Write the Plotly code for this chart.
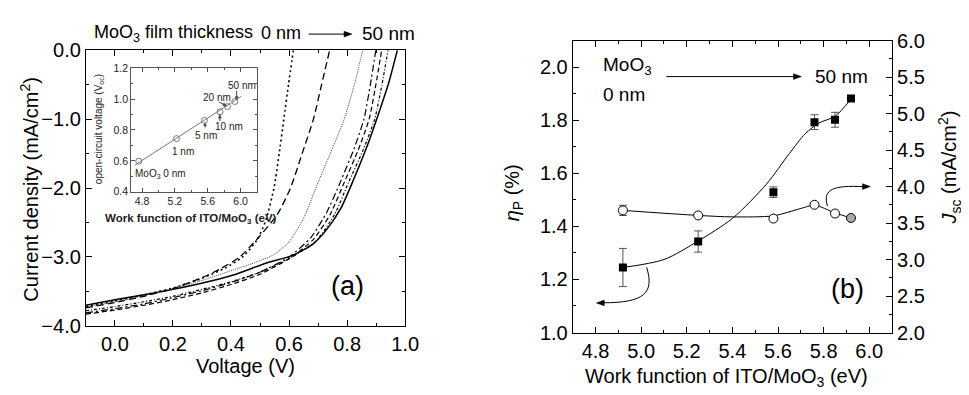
import math
import plotly.graph_objects as go

FONT = "Liberation Sans, Arial, sans-serif"

# ---------------- Panel (a): J-V curves ----------------
v_0nm = [-0.1, 0.0, 0.1, 0.2, 0.3, 0.38, 0.44, 0.49, 0.52, 0.548, 0.566, 0.582, 0.598, 0.615]
j_0nm = [-3.72, -3.64, -3.55, -3.45, -3.31, -3.16, -3.0, -2.75, -2.47, -2.0, -1.5, -1.0, -0.5, 0.0]

v_1nm = [-0.1, 0.0, 0.1, 0.2, 0.3, 0.36, 0.43, 0.49, 0.56, 0.605, 0.645, 0.684, 0.712, 0.74]
j_1nm = [-3.74, -3.66, -3.57, -3.46, -3.30, -3.18, -3.0, -2.74, -2.38, -2.0, -1.5, -1.0, -0.5, 0.0]

v_5nm = [-0.1, 0.0, 0.1, 0.2, 0.3, 0.4, 0.49, 0.55, 0.60, 0.65, 0.70, 0.75, 0.79, 0.825, 0.854]
j_5nm = [-3.73, -3.65, -3.56, -3.46, -3.34, -3.20, -3.07, -2.96, -2.78, -2.44, -1.92, -1.42, -1.0, -0.5, 0.0]

v_10nm = [-0.1, 0.0, 0.1, 0.2, 0.3, 0.4, 0.5, 0.6, 0.675, 0.73, 0.778, 0.822, 0.858, 0.880, 0.899]
j_10nm = [-3.81, -3.75, -3.68, -3.59, -3.49, -3.37, -3.22, -3.0, -2.72, -2.35, -1.9, -1.45, -1.0, -0.5, 0.0]

v_15nm = [-0.1, 0.0, 0.1, 0.2, 0.3, 0.4, 0.5, 0.61, 0.685, 0.742, 0.79, 0.838, 0.876, 0.899, 0.919]
j_15nm = [-3.83, -3.77, -3.70, -3.62, -3.52, -3.40, -3.25, -3.0, -2.74, -2.38, -1.92, -1.45, -1.0, -0.5, 0.0]

v_20nm = [-0.1, 0.0, 0.1, 0.2, 0.3, 0.4, 0.5, 0.61, 0.695, 0.757, 0.805, 0.855, 0.895, 0.92, 0.941]
j_20nm = [-3.78, -3.72, -3.65, -3.57, -3.47, -3.36, -3.22, -3.0, -2.76, -2.38, -1.92, -1.45, -1.0, -0.5, 0.0]

v_50nm = [-0.1, 0.0, 0.111, 0.2, 0.338, 0.417, 0.52, 0.61, 0.68, 0.73, 0.78, 0.822, 0.87, 0.91, 0.945, 0.973]
j_50nm = [-3.70, -3.62, -3.54, -3.47, -3.34, -3.25, -3.09, -2.98, -2.82, -2.6, -2.28, -1.88, -1.38, -0.9, -0.45, 0.0]

# ---------------- Inset: Voc vs work function ----------------
inset_wf = [4.76, 5.22, 5.56, 5.75, 5.84, 5.93]
inset_voc = [0.598, 0.744, 0.862, 0.917, 0.951, 0.984]
inset_fit_x = [4.71, 6.01]
inset_fit_y = [0.572, 1.018]

# ---------------- Panel (b) ----------------
wf = [4.92, 5.25, 5.58, 5.76, 5.85, 5.92]
eta = [1.245, 1.343, 1.529, 1.793, 1.802, 1.882]
eta_err = [0.072, 0.040, 0.020, 0.028, 0.028, 0.0]
jsc = [3.674, 3.605, 3.562, 3.751, 3.631, 3.570]
jsc_err = [0.07, 0.0, 0.0, 0.0, 0.0, 0.0]
eta_fit_x = [4.92, 5.1, 5.25, 5.4, 5.55, 5.65, 5.72, 5.78, 5.85, 5.92]
eta_fit_y = [1.245, 1.275, 1.345, 1.43, 1.56, 1.675, 1.75, 1.79, 1.815, 1.88]
jsc_fit_x = [4.92, 5.25, 5.4, 5.58, 5.7, 5.76, 5.85, 5.92]
jsc_fit_y = [3.674, 3.605, 3.585, 3.60, 3.70, 3.745, 3.64, 3.57]

W, H = 969, 395
def px(x):
    return x / W
def py(y):
    return 1 - y / H

fig = go.Figure()

curves = [
    (v_0nm, j_0nm, dict(color="black", width=1.6, dash="2px,3px")),
    (v_1nm, j_1nm, dict(color="black", width=1.3, dash="7px,4px")),
    (v_5nm, j_5nm, dict(color="#333", width=0.9, dash="1px,1px")),
    (v_10nm, j_10nm, dict(color="black", width=1.2, dash="7px,3px,2px,3px")),
    (v_15nm, j_15nm, dict(color="black", width=1.2, dash="5px,3px")),
    (v_20nm, j_20nm, dict(color="black", width=1.2, dash="3px,2px,1px,2px")),
    (v_50nm, j_50nm, dict(color="black", width=1.5)),
]
for vx, jy, ln in curves:
    fig.add_trace(go.Scatter(x=vx, y=jy, mode="lines",
                             line=dict(shape="spline", smoothing=0.6, **ln),
                             xaxis="x", yaxis="y", showlegend=False, hoverinfo="skip"))

# inset
fig.add_trace(go.Scatter(x=inset_fit_x, y=inset_fit_y, mode="lines",
                         line=dict(color="#777", width=1), xaxis="x3", yaxis="y4", showlegend=False))
fig.add_trace(go.Scatter(x=inset_wf, y=inset_voc, mode="markers",
                         marker=dict(symbol="circle-open", size=6, color="#777", line=dict(width=1)),
                         xaxis="x3", yaxis="y4", showlegend=False))

# panel b fits
fig.add_trace(go.Scatter(x=eta_fit_x, y=eta_fit_y, mode="lines",
                         line=dict(color="black", width=1, shape="spline", smoothing=0.8),
                         xaxis="x2", yaxis="y2", showlegend=False))
fig.add_trace(go.Scatter(x=jsc_fit_x, y=jsc_fit_y, mode="lines",
                         line=dict(color="black", width=1, shape="spline", smoothing=0.8),
                         xaxis="x2", yaxis="y3", showlegend=False))
fig.add_trace(go.Scatter(x=wf, y=eta, mode="markers",
                         marker=dict(symbol="square", size=8, color="black"),
                         error_y=dict(type="data", array=eta_err, color="#555", thickness=1, width=4),
                         xaxis="x2", yaxis="y2", showlegend=False))
fig.add_trace(go.Scatter(x=wf, y=jsc, mode="markers",
                         marker=dict(symbol="circle", size=9,
                                     color=["white"] * 5 + ["#aaa"],
                                     line=dict(color="black", width=1)),
                         error_y=dict(type="data", array=jsc_err, color="#555", thickness=1, width=4),
                         xaxis="x2", yaxis="y3", showlegend=False))

axis_common = dict(showline=True, linecolor="black", linewidth=1, ticks="inside",
                   ticklen=6, tickwidth=1, tickcolor="black", showgrid=False, zeroline=False,
                   tickfont=dict(family=FONT, size=20, color="black"))
inset_common = dict(showline=True, linecolor="#555", linewidth=1, ticks="inside", ticklen=4,
                    tickcolor="#555", showgrid=False, zeroline=False, mirror="ticks",
                    tickfont=dict(family=FONT, size=10.5, color="#222"))

fig.update_layout(
    width=W, height=H, autosize=False,
    margin=dict(l=0, r=0, t=0, b=0),
    paper_bgcolor="white", plot_bgcolor="white",
    font=dict(family=FONT, color="black"),
    xaxis=dict(domain=[px(79), px(403)], range=[-0.1, 1.0], anchor="y", mirror="ticks",
               dtick=0.2, tick0=0, tickformat=".1f",
               minor=dict(ticks="inside", ticklen=3, dtick=0.1, tick0=0, tickcolor="black"),
               **axis_common),
    yaxis=dict(domain=[py(325), py(33)], range=[-4, 0], anchor="x", mirror="ticks",
               dtick=1, tick0=0, tickformat=".1f",
               minor=dict(ticks="inside", ticklen=3, dtick=0.5, tick0=0, tickcolor="black"),
               **axis_common),
    xaxis2=dict(domain=[px(573), px(897)], range=[4.7, 6.1], anchor="y2", mirror="ticks",
                dtick=0.2, tick0=4.8, tickformat=".1f",
                minor=dict(ticks="inside", ticklen=3, dtick=0.1, tick0=4.8, tickcolor="black"),
                **axis_common),
    yaxis2=dict(domain=[py(332), py(23)], range=[1.0, 2.1], anchor="x2",
                dtick=0.2, tick0=1.0, tickformat=".1f",
                minor=dict(ticks="inside", ticklen=3, dtick=0.1, tick0=1.0, tickcolor="black"),
                **axis_common),
    yaxis3=dict(overlaying="y2", side="right", anchor="x2", range=[2, 6],
                dtick=0.5, tick0=2, tickformat=".1f",
                minor=dict(ticks="inside", ticklen=3, dtick=0.25, tick0=2, tickcolor="black"),
                **axis_common),
    xaxis3=dict(domain=[px(125), px(253)], range=[4.668, 6.204], anchor="y4",
                dtick=0.4, tick0=4.8, tickformat=".1f",
                minor=dict(ticks="inside", ticklen=2, dtick=0.2, tick0=4.8, tickcolor="#555"),
                **inset_common),
    yaxis4=dict(domain=[py(183), py(52)], range=[0.4, 1.2], anchor="x3",
                dtick=0.2, tick0=0.4, tickformat=".1f",
                minor=dict(ticks="inside", ticklen=2, dtick=0.1, tick0=0.4, tickcolor="#555"),
                **inset_common),
)

ann = []
def text(x, y, s, size=20, xanchor="center", yanchor="middle", angle=0, color="black"):
    ann.append(dict(x=px(x), y=py(y), xref="paper", yref="paper", text=s, showarrow=False,
                    xanchor=xanchor, yanchor=yanchor, textangle=angle, borderpad=0,
                    font=dict(family=FONT, size=size, color=color)))

shapes = []
def head(tx, ty, dx, dy, length=8, half=3, color="black"):
    """filled arrowhead (pixel coords), tip at (tx,ty), pointing along (dx,dy)"""
    n = math.hypot(dx, dy)
    ux, uy = dx / n, dy / n
    bx, by = tx - ux * length, ty - uy * length
    p1 = (bx - uy * half, by + ux * half)
    p2 = (bx + uy * half, by - ux * half)
    path = "M {},{} L {},{} L {},{} Z".format(px(tx), py(ty), px(p1[0]), py(p1[1]), px(p2[0]), py(p2[1]))
    shapes.append(dict(type="path", xref="paper", yref="paper", path=path,
                       fillcolor=color, line=dict(color=color, width=0.5)))

def straight_arrow(x0, y0, x1, y1, color="black", width=1, length=8, half=3):
    n = math.hypot(x1 - x0, y1 - y0)
    ex = x1 - (x1 - x0) / n * (length - 1)
    ey = y1 - (y1 - y0) / n * (length - 1)
    shapes.append(dict(type="line", xref="paper", yref="paper", x0=px(x0), y0=py(y0),
                       x1=px(ex), y1=py(ey), line=dict(color=color, width=width)))
    head(x1, y1, x1 - x0, y1 - y0, length=length, half=half, color=color)

def curve(pts, color="black", width=1):
    (a, b), (c1x, c1y), (c2x, c2y), (e, f) = pts
    path = "M {},{} C {},{} {},{} {},{}".format(px(a), py(b), px(c1x), py(c1y),
                                                   px(c2x), py(c2y), px(e), py(f))
    shapes.append(dict(type="path", xref="paper", yref="paper", path=path,
                       line=dict(color=color, width=width)))

# panel (a) texts
text(22, 180, "Current density (mA/cm<sup>2</sup>)", size=20, angle=-90)
text(241, 367, "Voltage (V)", size=20)
text(86, 15, "MoO<sub>3</sub> film thickness", size=18, xanchor="left")
text(298, 15, "0 nm", size=18, xanchor="right")
straight_arrow(305, 16, 349, 16)
text(358, 15, "50 nm", size=19, xanchor="left")
text(344, 283, "(a)", size=27)

# inset texts
text(93, 117, "open-circuit voltage (V<sub>oc</sub>)", size=10, angle=-90, color="#222")
text(186, 212, "<b>Work function of ITO/MoO<sub>3</sub> (eV)</b>", size=11.5, color="#222")
text(237, 70, "50 nm", size=10, color="#222")
straight_arrow(232, 76, 232, 86, color="#444", length=4, half=1.5)
text(212, 83, "20 nm", size=10, color="#222")
straight_arrow(214, 88, 222, 92, color="#444", length=4, half=1.5)
text(224, 114, "10 nm", size=10, color="#222")
straight_arrow(215, 108, 215, 101, color="#444", length=4, half=1.5)
text(201, 123, "5 nm", size=10, color="#222")
straight_arrow(200, 115, 200, 110, color="#444", length=3, half=1.5)
text(178, 140, "1 nm", size=10, color="#222")
text(128, 164, "MoO<sub>3</sub> 0 nm", size=10, xanchor="left", color="#222")

# panel (b) texts
text(729, 380, "Work function of ITO/MoO<sub>3</sub> (eV)", size=20)
text(513, 184, "<i>η</i><sub>P</sub> (%)", size=20, angle=-90)
text(955, 157, "<i>J</i><sub>sc</sub> (mA/cm<sup>2</sup>)", size=20, angle=-90)
text(603, 50, "MoO<sub>3</sub>", size=19, xanchor="left")
text(603, 80, "0 nm", size=19, xanchor="left")
straight_arrow(668, 61, 805, 61)
text(818, 61, "50 nm", size=19, xanchor="left")
text(852, 286, "(b)", size=27)

# curved arrows in panel (b)
curve([(648, 263), (656, 290), (646, 300.5), (604, 300.5)])
head(597, 300.7, -1, 0)
curve([(831.5, 198), (826, 180), (838, 176), (868, 177.5)])
head(875, 177.5, 1, 0)

fig.update_layout(annotations=ann, shapes=shapes)

fig.write_html("out.html")
